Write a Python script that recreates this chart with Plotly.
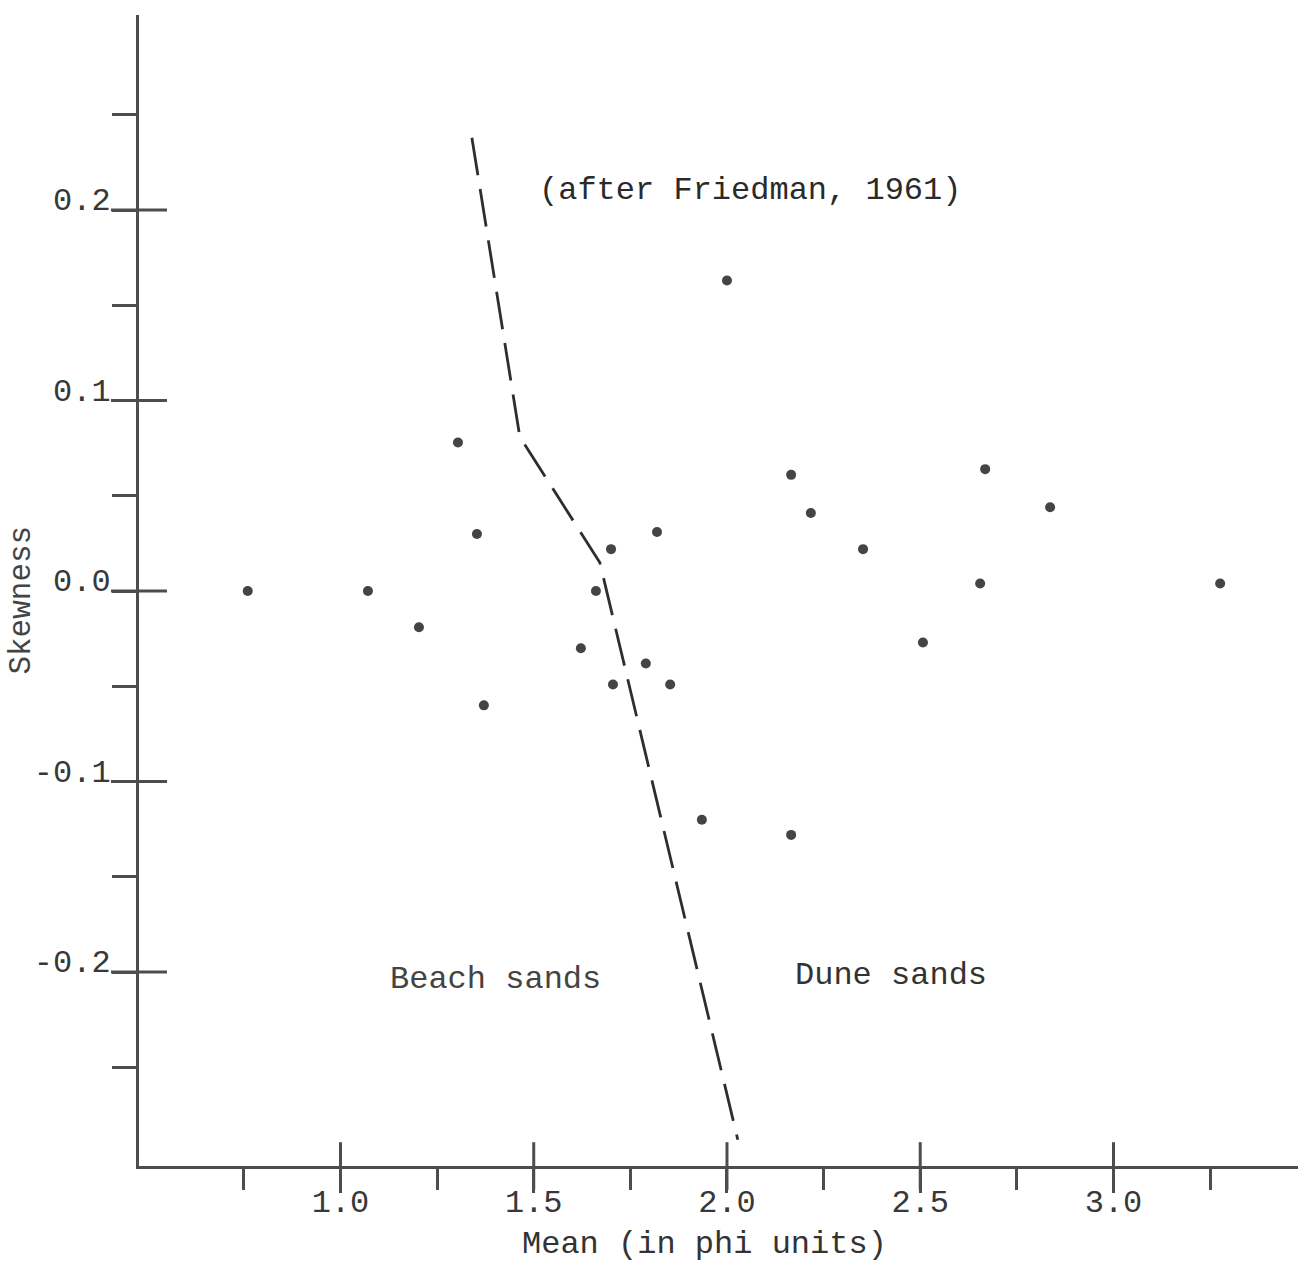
import plotly.graph_objects as go

# ---- data ----
mean_phi = [0.76, 1.071, 1.203, 1.304, 1.353, 1.371, 2.0, 1.622, 1.661, 1.700, 1.705,
            1.819, 1.790, 1.853, 1.935, 2.166, 2.166, 2.217, 2.352, 2.507, 2.655,
            2.668, 2.836, 3.276]
skewness = [0.0, 0.0, -0.019, 0.078, 0.030, -0.060, 0.163, -0.030, 0.0, 0.022, -0.049,
            0.031, -0.038, -0.049, -0.120, 0.061, -0.128, 0.041, 0.022, -0.027, 0.004,
            0.064, 0.044, 0.004]

# Friedman (1961) beach / dune boundary
boundary_x = [1.340, 1.464, 1.671, 2.028]
boundary_y = [0.238, 0.081, 0.015, -0.288]

x_major = [1.0, 1.5, 2.0, 2.5, 3.0]
x_minor = [0.75, 1.25, 1.75, 2.25, 2.75, 3.25]
y_major = [-0.2, -0.1, 0.0, 0.1, 0.2]
y_minor = [-0.25, -0.15, -0.05, 0.05, 0.15, 0.25]
y_labels = ["-0.2", "-0.1", "0.0", "0.1", "0.2"]
x_labels = ["1.0", "1.5", "2.0", "2.5", "3.0"]

x_range = [0.4787, 3.4774]
y_range = [-0.3018, 0.3024]

FONT = "Liberation Mono, Courier New, monospace"
FS = 32
INK = "#383838"
AXIS = "#4d4d4d"

fig = go.Figure()

fig.add_trace(go.Scatter(
    x=boundary_x, y=boundary_y, mode="lines",
    line=dict(color="#2e2e2e", width=2.8, dash="38px,14px"),
    hoverinfo="skip", showlegend=False))

fig.add_trace(go.Scatter(
    x=mean_phi, y=skewness, mode="markers",
    marker=dict(size=10, color="#444444"),
    showlegend=False))

# major ticks cross the axes (typewriter style): short bars centred on the axis lines
fig.add_trace(go.Scatter(
    x=x_major, y=[y_range[0]] * len(x_major), mode="markers", cliponaxis=False,
    marker=dict(symbol="line-ns", size=34, line=dict(width=3, color=AXIS)),
    hoverinfo="skip", showlegend=False))
fig.add_trace(go.Scatter(
    x=[x_range[0]] * len(y_major), y=y_major, mode="markers", cliponaxis=False,
    marker=dict(symbol="line-ew", size=40, line=dict(width=3, color=AXIS)),
    hoverinfo="skip", showlegend=False))

fig.update_layout(
    width=1298, height=1265,
    margin=dict(l=139, r=0, t=15, b=99),
    paper_bgcolor="white", plot_bgcolor="white",
    font=dict(family=FONT, size=FS, color=INK),
    xaxis=dict(
        range=x_range, showgrid=False, zeroline=False,
        showline=True, linecolor=AXIS, linewidth=3,
        tickmode="array", tickvals=x_major, ticktext=x_labels,
        ticks="outside", ticklen=24, tickwidth=3, tickcolor=AXIS,
        ticklabelstandoff=-19,
        minor=dict(tickmode="array", tickvals=x_minor, ticks="outside",
                   ticklen=21, tickwidth=3, tickcolor=AXIS),
        tickfont=dict(family=FONT, size=FS, color=INK),
    ),
    yaxis=dict(
        range=y_range, showgrid=False, zeroline=False,
        showline=True, linecolor=AXIS, linewidth=3,
        tickmode="array", tickvals=y_major, ticktext=y_labels,
        ticks="outside", ticklen=24, tickwidth=3, tickcolor=AXIS,
        ticklabelshift=-11, ticklabelstandoff=-5,
        minor=dict(tickmode="array", tickvals=y_minor, ticks="outside",
                   ticklen=24, tickwidth=3, tickcolor=AXIS),
        tickfont=dict(family=FONT, size=FS, color=INK),
    ),
)

annotations = [
    dict(text="(after Friedman, 1961)", x=1.508, y=0.2105, xref="x", yref="y",
         xanchor="left", yanchor="middle", showarrow=False,
         font=dict(family=FONT, size=FS, color="#2a2a2a")),
    dict(text="Beach sands", x=1.123, y=-0.204, xref="x", yref="y",
         xanchor="left", yanchor="middle", showarrow=False,
         font=dict(family=FONT, size=FS, color="#444444")),
    dict(text="Dune sands", x=2.171, y=-0.2016, xref="x", yref="y",
         xanchor="left", yanchor="middle", showarrow=False,
         font=dict(family=FONT, size=FS, color="#333333")),
    dict(text="Mean (in phi units)", x=1.943, y=0, xref="x", yref="paper",
         xanchor="center", yanchor="middle", yshift=-78, showarrow=False,
         font=dict(family=FONT, size=FS, color="#333333")),
    dict(text="Skewness", x=0, y=-0.005, xref="paper", yref="y",
         xanchor="center", yanchor="middle", xshift=-117, textangle=-90,
         showarrow=False, font=dict(family=FONT, size=FS - 1, color="#444444")),
]
fig.update_layout(annotations=annotations)

fig.write_html("out.html")
